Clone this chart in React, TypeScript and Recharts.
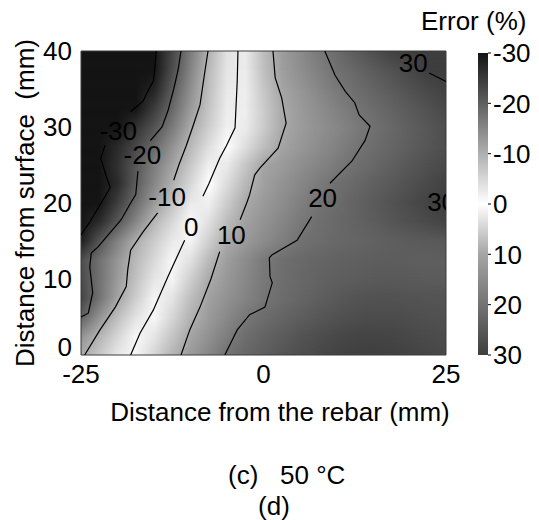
import { ScatterChart, Scatter, XAxis, YAxis, ReferenceArea, BarChart, Bar } from "recharts";

const FONT = "Arial, 'Liberation Sans', Helvetica, sans-serif";

// grid nodes (mm)
const X_NODES = [-25, -22.5, -20, -17.5, -15, -12.5, -10, -7.5, -5, -2.5, 0, 2.5, 5, 7.5, 10, 12.5, 15, 17.5, 20, 22.5, 25];
const Y_NODES = [0, 2.5, 5, 7.5, 10, 12.5, 15, 17.5, 20, 22.5, 25, 27.5, 30, 32.5, 35, 37.5, 40];

// error (%), one row per Y_NODES entry (bottom to top)
const ERROR_ROWS = [
  [-10.9, -6.9, -2.9, 1.0, 4.6, 8.3, 12.2, 16.3, 20.3, 22.2, 24.0, 25.6, 27.0, 28.2, 29.0, 29.6, 29.8, 29.6, 29.0, 28.4, 28.0],
  [-13.7, -9.5, -5.2, -1.0, 2.8, 6.5, 10.1, 14.1, 17.9, 21.0, 22.8, 24.4, 25.8, 27.0, 28.0, 28.6, 28.8, 28.6, 28.2, 27.6, 27.2],
  [-20, -13.7, -8.1, -3.6, 0.8, 4.6, 8.4, 12.1, 15.6, 19.1, 21.2, 22.6, 24.0, 25.2, 26.2, 27.0, 27.4, 27.4, 27.0, 26.6, 26.4],
  [-23.7, -17.6, -11.5, -6.3, -1.4, 3.0, 7.2, 10.9, 13.8, 16.6, 19.5, 21.2, 22.5, 23.8, 25.0, 25.8, 26.2, 26.2, 26.0, 25.8, 25.8],
  [-22.8, -17.7, -12.6, -7.8, -3.3, 1.2, 5.3, 9.5, 12.7, 15.8, 18.9, 21.0, 22.0, 23.0, 23.8, 24.4, 24.8, 25.0, 24.8, 24.5, 24.5],
  [-22.6, -17.9, -13.2, -8.8, -4.9, -1.0, 3.3, 7.7, 11.7, 15.1, 18.6, 20.8, 21.8, 22.6, 23.2, 23.6, 24.0, 24.2, 24.0, 23.8, 24.0],
  [-28.8, -21.5, -15.7, -10.4, -6.5, -2.7, 1.2, 5.3, 9.3, 12.3, 15.0, 17.7, 20.2, 21.2, 22.0, 22.6, 23.2, 23.8, 24.4, 24.8, 25.0],
  [-32.9, -27, -21.1, -15.1, -9.3, -4.9, -0.6, 3.4, 7.4, 10.9, 13.6, 16.2, 18.8, 20.7, 21.9, 23.0, 24.2, 25.4, 26.6, 27.8, 29.0],
  [-36.1, -30.2, -24.4, -18.5, -12.8, -7.6, -2.8, 1.7, 5.7, 9.6, 12.3, 14.9, 17.5, 20.0, 21.5, 23.0, 24.5, 26.0, 27.5, 29.0, 30.5],
  [-40, -33.5, -27, -20.4, -15.1, -9.9, -5.0, -0.1, 3.9, 7.9, 11.1, 13.6, 16.0, 18.4, 20.5, 22.0, 23.5, 25.0, 26.5, 28.0, 29.5],
  [-35.9, -31.0, -26.1, -21.1, -16.4, -11.7, -6.9, -2.0, 2.3, 6.2, 10.1, 12.1, 14.4, 16.5, 18.6, 20.6, 22.0, 23.5, 25.2, 26.6, 28.0],
  [-35.3, -31.3, -27.2, -23.2, -18.9, -13.8, -8.9, -4.3, 0.2, 3.6, 7.1, 10.3, 12.6, 14.8, 17.1, 19.4, 21.1, 22.5, 24.0, 25.5, 27.0],
  [-38, -34.3, -30.1, -26, -21.8, -16.7, -10.8, -6.3, -1.9, 2.1, 5.7, 9.4, 11.8, 14.0, 16.1, 18.3, 20.4, 22.0, 23.7, 25.3, 27.0],
  [-40, -40, -36.6, -30.7, -24.8, -18.9, -12.8, -7.4, -2.4, 1.9, 5.7, 9.5, 12.2, 14.7, 17.2, 19.7, 21.4, 23.1, 24.7, 26.4, 28.0],
  [-40, -40, -40, -35.2, -28, -20.7, -14.1, -8.1, -2.9, 1.9, 6.2, 10.3, 13.1, 16.0, 18.8, 21.0, 22.8, 24.6, 26.4, 28.2, 29.5],
  [-40, -40, -40, -37.7, -30.4, -22.5, -15.4, -8.8, -3.2, 2.1, 7.0, 11.2, 14.4, 17.5, 20.4, 22.3, 24.3, 26.2, 28.1, 30.1, 31.0],
  [-40, -40, -40, -38, -30.8, -23.5, -16.5, -9.8, -3.7, 2.1, 7.3, 11.7, 15.2, 18.7, 21.6, 24.3, 26.9, 29.5, 31.0, 32.0, 32.5],
];

// contour lines, split where the level labels sit
const C_M30_A = [{ x: -14.7, y: 40 }, { x: -14.9, y: 37.5 }, { x: -15.1, y: 36.0 }, { x: -15.7, y: 35.0 }, { x: -16.5, y: 33.4 }, { x: -18.2, y: 32.0 }];
const C_M30_B = [{ x: -21.7, y: 27.6 }, { x: -22.3, y: 25.9 }, { x: -21.6, y: 23.7 }, { x: -21.0, y: 22.0 }, { x: -22.0, y: 20.4 }, { x: -23.8, y: 17.5 }, { x: -25, y: 15.8 }];
const C_M20_A = [{ x: -11.3, y: 40 }, { x: -11.7, y: 37.5 }, { x: -12.3, y: 35 }, { x: -13.1, y: 32.1 }, { x: -13.9, y: 30 }, { x: -15.5, y: 28.2 }];
const C_M20_B = [{ x: -17.2, y: 24.2 }, { x: -17.5, y: 21.1 }, { x: -18.2, y: 20.0 }, { x: -19.5, y: 17.8 }, { x: -22.7, y: 14.2 }, { x: -23.6, y: 13.4 }, { x: -23.8, y: 11.6 }, { x: -23.4, y: 8.2 }, { x: -24.0, y: 5.5 }, { x: -25, y: 5.0 }];
const C_M10_A = [{ x: -7.6, y: 40 }, { x: -8.0, y: 37.5 }, { x: -8.7, y: 32.9 }, { x: -9.7, y: 30 }, { x: -10.6, y: 27.5 }, { x: -11.6, y: 25 }, { x: -12.3, y: 23.0 }];
const C_M10_B = [{ x: -14.5, y: 18.7 }, { x: -16.5, y: 16.2 }, { x: -18.2, y: 13.8 }, { x: -18.6, y: 11.2 }, { x: -18.8, y: 9.0 }, { x: -20.3, y: 6.3 }, { x: -22.4, y: 3.3 }, { x: -24.5, y: 0 }];
const C_0_A = [{ x: -3.5, y: 40 }, { x: -3.6, y: 36 }, { x: -3.9, y: 29.9 }, { x: -5.1, y: 27.5 }, { x: -6.0, y: 25.9 }, { x: -7.5, y: 22.5 }, { x: -8.3, y: 20.9 }];
const C_0_B = [{ x: -10.8, y: 15.1 }, { x: -13.1, y: 10.3 }, { x: -15.1, y: 5.9 }, { x: -16.9, y: 2.9 }, { x: -18.2, y: 0 }];
const C_10_A = [{ x: 1.3, y: 40 }, { x: 1.6, y: 36.5 }, { x: 2.5, y: 33.8 }, { x: 3.1, y: 30.5 }, { x: 2.0, y: 27.2 }, { x: -0.5, y: 24.6 }, { x: -1.2, y: 23.7 }, { x: -1.9, y: 21.1 }, { x: -2.3, y: 20.0 }, { x: -3.2, y: 17.8 }];
const C_10_B = [{ x: -6.0, y: 13.6 }, { x: -7.2, y: 10 }, { x: -8.7, y: 6.3 }, { x: -10.1, y: 3.3 }, { x: -11.3, y: 0 }];
const C_20_A = [{ x: 8.4, y: 40 }, { x: 9.8, y: 36.8 }, { x: 11.2, y: 34.7 }, { x: 12.5, y: 33.2 }, { x: 13.1, y: 31.6 }, { x: 14.6, y: 30.1 }, { x: 13.9, y: 28.2 }, { x: 12.1, y: 25.5 }, { x: 9.1, y: 22.6 }];
const C_20_B = [{ x: 6.6, y: 18.2 }, { x: 4.6, y: 15.1 }, { x: 1.2, y: 13.2 }, { x: 0.8, y: 12.8 }, { x: 0.9, y: 10.3 }, { x: 1.2, y: 9.5 }, { x: 0.2, y: 6.3 }, { x: -1.9, y: 5.3 }, { x: -3.6, y: 3.3 }, { x: -5.3, y: 0 }];
const C_30_A = [{ x: 22.7, y: 37.1 }, { x: 25, y: 36.0 }];

const CONTOURS = [C_M30_A, C_M30_B, C_M20_A, C_M20_B, C_M10_A, C_M10_B, C_0_A, C_0_B, C_10_A, C_10_B, C_20_A, C_20_B, C_30_A];

const CONTOUR_LABELS = [
  { x: -19.9, y: 29.5, text: "-30" },
  { x: -16.6, y: 26.3, text: "-20" },
  { x: -13.2, y: 20.8, text: "-10" },
  { x: -9.9, y: 16.9, text: "0" },
  { x: -4.4, y: 15.8, text: "10" },
  { x: 8.1, y: 20.6, text: "20" },
  { x: 20.5, y: 38.4, text: "30" },
  { x: 24.4, y: 20.1, text: "30" },
];

const X_TICKS = [-25, 0, 25];
const Y_TICKS = [0, 10, 20, 30, 40];
const BAR_TICKS = [-30, -20, -10, 0, 10, 20, 30];
const BAR_DATA = [{ name: "Error", span: [-30, 30] }];

// colour scale: black at -30, white at 0, dark grey at +30
const LEVELS = [-30, -20, -10, 0, 10, 20, 30];
const GRAYS = [20, 95, 175, 255, 165, 115, 62];

const grayOf = (v: number) => {
  let g = GRAYS[0];
  if (v >= LEVELS[LEVELS.length - 1]) g = GRAYS[GRAYS.length - 1];
  else if (v > LEVELS[0]) {
    for (let i = 0; i < LEVELS.length - 1; i++) {
      if (v <= LEVELS[i + 1]) {
        const t = (v - LEVELS[i]) / (LEVELS[i + 1] - LEVELS[i]);
        g = GRAYS[i] + t * (GRAYS[i + 1] - GRAYS[i]);
        break;
      }
    }
  }
  const c = Math.round(g);
  return `rgb(${c},${c},${c})`;
};

const X_MIN = X_NODES[0];
const X_MAX = X_NODES[X_NODES.length - 1];

// y tick: the bottom "0" sits a little higher, clear of the x tick labels
const YTick = (props: any) => {
  const { x, y, payload } = props;
  const lift = payload.value === 0 ? -8 : 0;
  return (
    <text x={x} y={y + lift} dy="0.355em" textAnchor="end" fontSize={26} fontFamily={FONT} fill="#000">
      {payload.value}
    </text>
  );
};

const App = () => {
  return (
    <div style={{ position: "absolute", left: 0, top: 0, width: 539, height: 520, background: "#fff", fontFamily: FONT }}>
      <div style={{ position: "absolute", left: 0, top: 0 }}>
        <ScatterChart width={460} height={420} margin={{ top: 51, right: 14, bottom: 25, left: 21 }}>
          <defs>
            {ERROR_ROWS.map((row, j) => (
              <linearGradient key={j} id={`errRow${j}`} x1="0" y1="0" x2="1" y2="0">
                {row.map((v, i) => (
                  <stop key={i} offset={(X_NODES[i] - X_MIN) / (X_MAX - X_MIN)} stopColor={grayOf(v)} />
                ))}
              </linearGradient>
            ))}
            <linearGradient id="fadeGrad" x1="0" y1="0" x2="0" y2="1">
              <stop offset="0" stopColor="#fff" stopOpacity={1} />
              <stop offset="1" stopColor="#fff" stopOpacity={0} />
            </linearGradient>
            <mask id="fadeUp" maskContentUnits="objectBoundingBox" style={{ maskType: "alpha" }}>
              <rect x="0" y="0" width="1" height="1" fill="url(#fadeGrad)" />
            </mask>
          </defs>
          <XAxis
            type="number"
            dataKey="x"
            domain={[-25, 25]}
            ticks={X_TICKS}
            allowDataOverflow
            axisLine={false}
            tickLine={false}
            tickSize={0}
            tickMargin={10}
            height={40}
            tick={{ fontSize: 26, fill: "#000", fontFamily: FONT }}
          />
          <YAxis
            type="number"
            dataKey="y"
            domain={[0, 40]}
            ticks={Y_TICKS}
            allowDataOverflow
            axisLine={false}
            tickLine={false}
            tickSize={0}
            tickMargin={9}
            width={60}
            tick={<YTick />}
          />
          {Y_NODES.slice(0, -1).map((y0, k) => (
            <ReferenceArea
              key={`band${k}`}
              x1={X_MIN}
              x2={X_MAX}
              y1={y0}
              y2={Y_NODES[k + 1]}
              shape={(p: any) => (
                <g>
                  <rect x={p.x} y={p.y} width={p.width} height={p.height} fill={`url(#errRow${k})`} shapeRendering="crispEdges" />
                  <rect x={p.x} y={p.y} width={p.width} height={p.height} fill={`url(#errRow${k + 1})`} mask="url(#fadeUp)" shapeRendering="crispEdges" />
                </g>
              )}
            />
          ))}
          <ReferenceArea x1={X_MIN} x2={X_MAX} y1={0} y2={40} fill="none" fillOpacity={0} stroke="#3c3c3c" strokeWidth={1} />
          {CONTOURS.map((seg, i) => (
            <Scatter
              key={`c${i}`}
              data={seg}
              line={{ stroke: "#000", strokeWidth: 1.2 }}
              fill="#000"
              shape={() => <g />}
              legendType="none"
              isAnimationActive={false}
            />
          ))}
          <Scatter
            data={CONTOUR_LABELS}
            legendType="none"
            isAnimationActive={false}
            shape={(p: any) => (
              <text x={p.cx} y={p.cy} textAnchor="middle" dominantBaseline="central" fontSize={26} fontFamily={FONT} fill="#000">
                {p.payload.text}
              </text>
            )}
          />
        </ScatterChart>
      </div>

      <div style={{ position: "absolute", left: 470, top: 0 }}>
        <BarChart width={69} height={380} data={BAR_DATA} margin={{ top: 53, right: 6, bottom: 25, left: 8 }} barCategoryGap={0}>
          <defs>
            <linearGradient id="barGrad" x1="0" y1="0" x2="0" y2="1">
              {LEVELS.map((lv, i) => (
                <stop key={i} offset={(lv - LEVELS[0]) / (LEVELS[LEVELS.length - 1] - LEVELS[0])} stopColor={grayOf(lv)} />
              ))}
            </linearGradient>
          </defs>
          <XAxis dataKey="name" hide />
          <YAxis
            type="number"
            orientation="right"
            domain={[-30, 30]}
            reversed
            ticks={BAR_TICKS}
            axisLine={false}
            tickSize={3}
            tickMargin={2}
            width={45}
            tickLine={{ stroke: "#000" }}
            tick={{ fontSize: 26, fill: "#000", fontFamily: FONT, textAnchor: "start" }}
          />
          <Bar dataKey="span" fill="url(#barGrad)" isAnimationActive={false} />
        </BarChart>
      </div>

      <svg width={539} height={520} style={{ position: "absolute", left: 0, top: 0, pointerEvents: "none" }}>
        <g fontFamily={FONT} fontSize={26} fill="#000">
          <text transform="translate(25,203) rotate(-90)" textAnchor="middle" dominantBaseline="central" style={{ whiteSpace: "pre" }}>
            Distance from surface  (mm)
          </text>
          <text x={280} y={421} textAnchor="middle">Distance from the rebar (mm)</text>
          <text x={421} y={30}>Error (%)</text>
          <text x={228} y={484} style={{ whiteSpace: "pre" }}>(c)   50 °C</text>
          <text x={274} y={515} textAnchor="middle">(d)</text>
        </g>
      </svg>
    </div>
  );
};

export default App;
